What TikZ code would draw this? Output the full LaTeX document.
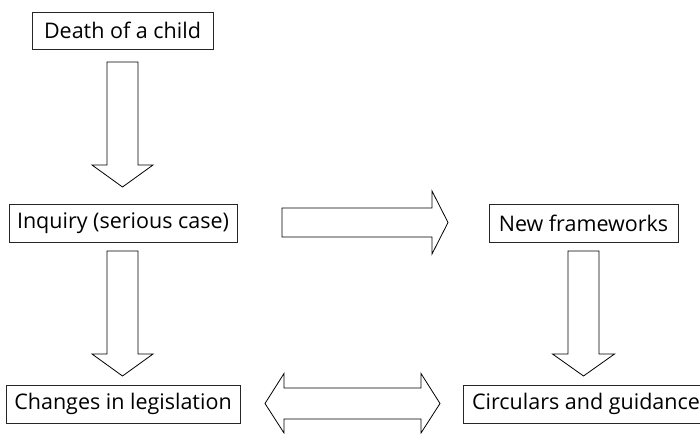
\documentclass[tikz,border=0pt]{standalone}
\usepackage{fontspec}
\setmainfont{Open Sans}
\begin{document}
\begin{tikzpicture}[x=1pt,y=-1pt,
  box/.style={draw=black!85, line width=0.9pt, inner sep=0pt, minimum height=38pt,
    font=\fontsize{21.5}{24}\selectfont},
  blockarrow/.style={draw=black, line width=0.8pt, fill=white, line join=miter}]
\useasboundingbox (0,0) rectangle (700,433);

% boxes
\node[box, minimum width=181pt, minimum height=37pt] (death)   at (122.5,30.5) {Death of a child};
\node[box, minimum width=228pt] (inquiry) at (123,223)   {Inquiry (serious case)};
\node[box, minimum width=189pt] (frame)   at (583.5,223) {New frameworks};
\node[box, minimum width=234pt] (legis)   at (123,404)   {Changes in legislation};
\node[box, minimum width=246pt] (circ)    at (586,404)   {Circulars and guidance};

% hollow block arrows
\draw[blockarrow] (107,62) -- (138,62) -- (138,165) -- (153,165) -- (122.5,187)
  -- (92,165) -- (107,165) -- cycle;
\draw[blockarrow] (107,251) -- (138,251) -- (138,354) -- (153,354) -- (122.5,376)
  -- (92,354) -- (107,354) -- cycle;
\draw[blockarrow] (568,251) -- (599,251) -- (599,354) -- (614.5,354) -- (583.5,376)
  -- (552.5,354) -- (568,354) -- cycle;
\draw[blockarrow] (282,208) -- (432,208) -- (432,191) -- (448,222.5) -- (432,254)
  -- (432,237) -- (282,237) -- cycle;
\draw[blockarrow] (265,403.5) -- (284,373.5) -- (284,388) -- (421,388) -- (421,373.5)
  -- (440,403.5) -- (421,433) -- (421,419) -- (284,419) -- (284,433) -- cycle;
\end{tikzpicture}
\end{document}
